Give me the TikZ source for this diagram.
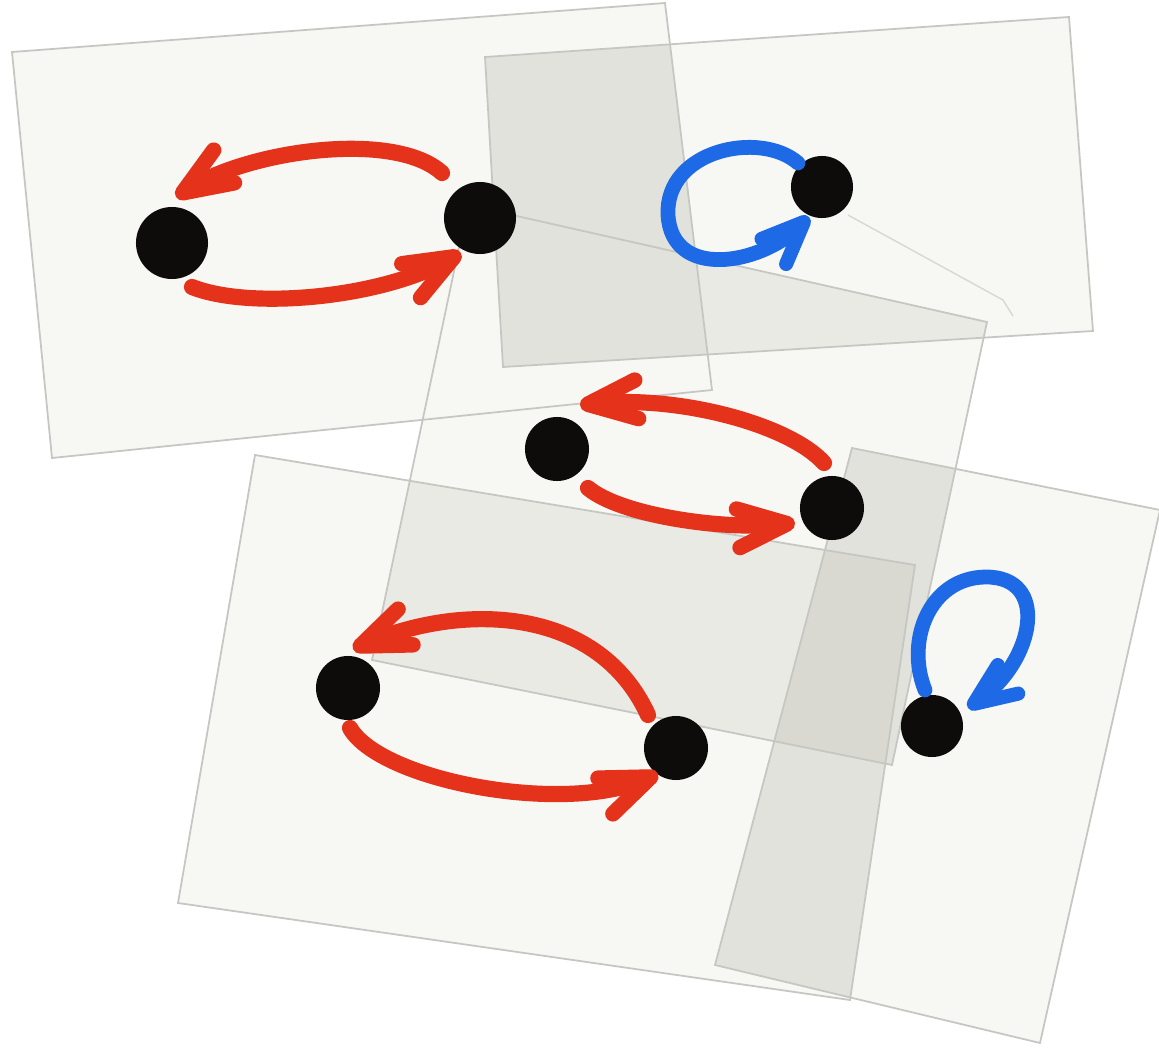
\documentclass[tikz,border=0pt]{standalone}
\usepackage{tikz}
\usetikzlibrary{arrows.meta}
\definecolor{MarkerRed}{HTML}{E5321B}
\definecolor{MarkerBlue}{HTML}{1E6AE6}
\definecolor{InkBlack}{HTML}{0E0B0B}
\definecolor{SheetFill}{HTML}{F7F7F4}
\definecolor{SheetEdge}{HTML}{C6C6C2}
\definecolor{OverlapLight}{HTML}{EAEAE5}
\definecolor{OverlapMid}{HTML}{E2E2DC}
\definecolor{OverlapDark}{HTML}{D9D9D2}

% the five transparencies (corners in scan pixels)
\def\shA{(12,52) -- (665,3) -- (712,390) -- (52,458) -- cycle}
\def\shB{(485,57) -- (1069,17) -- (1093,331) -- (503,367) -- cycle}
\def\shC{(468,205) -- (987,322) -- (892,765) -- (372,660) -- cycle}
\def\shD{(255,455) -- (915,565) -- (850,1000) -- (178,903) -- cycle}
\def\shE{(852,448) -- (1160,510) -- (1040,1043) -- (715,965) -- cycle}

\begin{document}
\begin{tikzpicture}[
  x=0.01cm, y=-0.01cm,
  sheet/.style   = {fill=SheetFill},
  rim/.style     = {draw=SheetEdge, line width=0.5pt},
  crease/.style  = {draw=SheetEdge!70, line width=0.4pt},
  dot/.style     = {circle, fill=InkBlack, inner sep=0pt, minimum size=0.64cm},
  redarr/.style  = {draw=MarkerRed, line width=4.6pt, line cap=round,
                    -{Straight Barb[length=14pt, width=11pt, line width=4.4pt, round]}},
  bluearr/.style = {draw=MarkerBlue, line width=4.2pt, line cap=round,
                    -{Straight Barb[length=12pt, width=10pt, line width=4pt, round]}}
]
  \fill[white] (0,0) rectangle (1159,1051);
  \useasboundingbox (0,0) rectangle (1159,1051);

  \foreach \shp in {\shA,\shB,\shC,\shD,\shE}
    \path[sheet] \shp;

  % where the sheets lie on one another
  \begin{scope} \clip \shB; \fill[OverlapLight] \shC; \end{scope}
  \begin{scope} \clip \shC; \fill[OverlapLight] \shD; \end{scope}
  \begin{scope} \clip \shC; \fill[OverlapMid] \shE; \end{scope}
  \begin{scope} \clip \shD; \fill[OverlapMid] \shE; \end{scope}
  \begin{scope} \clip \shA; \fill[OverlapMid] \shB; \end{scope}
  \begin{scope} \clip \shC; \clip \shD; \fill[OverlapDark] \shE; \end{scope}

  \foreach \shp in {\shA,\shB,\shC,\shD,\shE}
    \path[rim] \shp;

  \node[dot, minimum size=0.72cm] (d1) at (172,243) {};
  \node[dot, minimum size=0.72cm] (d2) at (480,218) {};
  \node[dot, minimum size=0.62cm] (d3) at (822,187) {};
  \node[dot] (d4) at (557,449) {};
  \node[dot] (d5) at (832,508) {};
  \node[dot] (d6) at (348,688) {};
  \node[dot] (d7) at (676,748) {};
  \node[dot, minimum size=0.62cm] (d8) at (932,726) {};

  \draw[crease] ([shift={(26,28)}]d3.center) -- (1003,300) -- (1013,316);

  % two-way pairs
  \draw[redarr] ([shift={(-38,-45)}]d2.center) .. controls (395,130) and (250,150) .. ([shift={(4,-46)}]d1.center);
  \draw[redarr] ([shift={(20,44)}]d1.center) .. controls (250,310) and (380,298) .. ([shift={(-19,35)}]d2.center);
  \draw[redarr] ([shift={(-8,-45)}]d5.center) .. controls (790,425) and (680,395) .. ([shift={(23,-44)}]d4.center);
  \draw[redarr] ([shift={(31,39)}]d4.center) .. controls (620,515) and (720,530) .. ([shift={(-37,15)}]d5.center);
  \draw[redarr] ([shift={(-28,-33)}]d7.center) .. controls (600,610) and (470,600) .. ([shift={(5,-39)}]d6.center);
  \draw[redarr] ([shift={(2,40)}]d6.center) .. controls (380,780) and (560,815) .. ([shift={(-18,26)}]d7.center);

  % self loops
  \draw[bluearr] ([shift={(-24,-24)}]d3.center) .. controls (760,130) and (665,150) .. (668,215)
                 .. controls (672,280) and (760,265) .. ([shift={(-13,30)}]d3.center);
  \draw[bluearr] ([shift={(-7,-36)}]d8.center) .. controls (905,640) and (930,578) .. (985,577)
                 .. controls (1050,576) and (1035,660) .. ([shift={(36,-18)}]d8.center);
\end{tikzpicture}
\end{document}
